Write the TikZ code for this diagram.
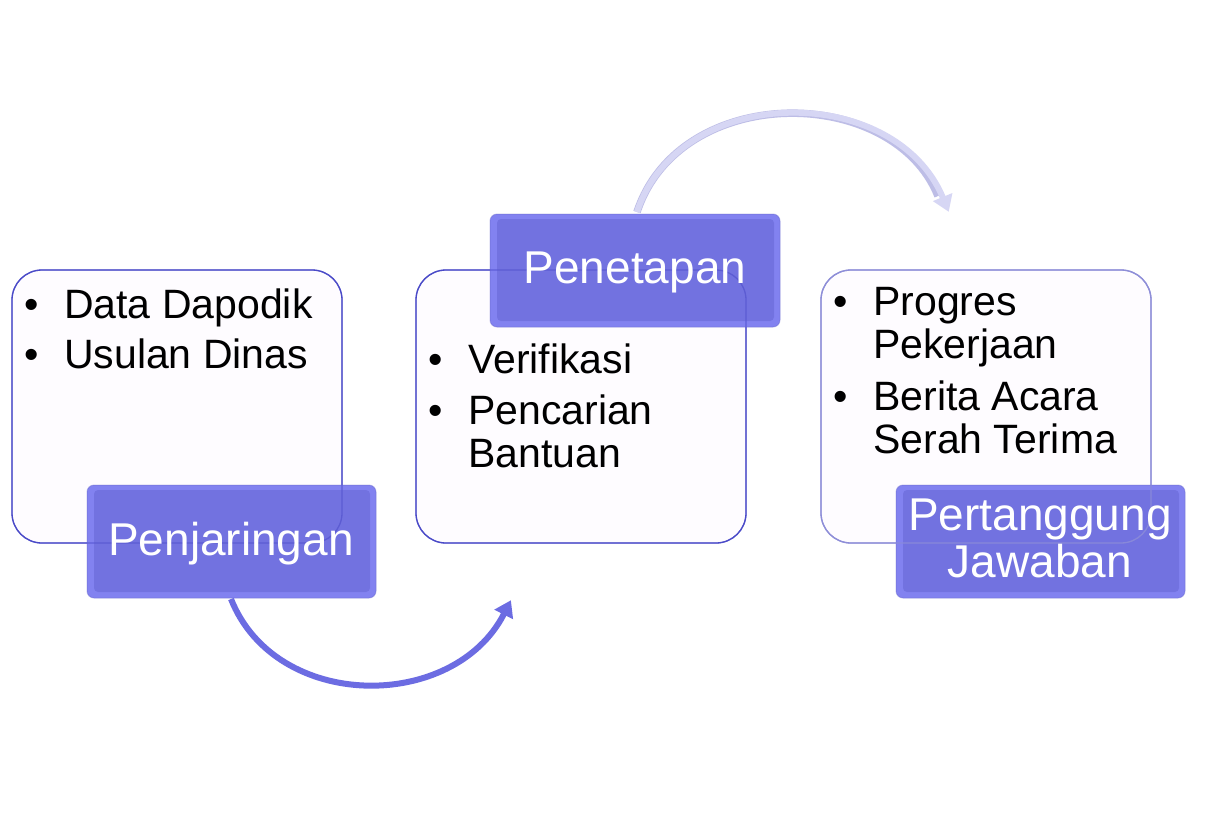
\documentclass[tikz,border=0pt]{standalone}
\usepackage{fontspec}
\setmainfont{Liberation Sans}
\usetikzlibrary{arrows.meta}
\definecolor{boxfill}{HTML}{FEFCFF}
\definecolor{boxline}{HTML}{4A4AC8}
\definecolor{boxlinelight}{HTML}{8E8ED8}
\definecolor{labouter}{HTML}{7C7CF0}
\definecolor{labinner}{HTML}{7272E0}
\definecolor{labdark}{HTML}{6A6ACC}
\definecolor{arrowdark}{HTML}{6C6CE2}
\definecolor{arrowlight}{HTML}{D6D6F4}
\definecolor{arrowlightedge}{HTML}{BDBDE6}
\tikzset{
  textbox/.style={draw=boxline, line width=1.3pt, fill=boxfill, rounded corners=30pt},
  boxghost/.style={draw=boxline, line width=1.3pt, draw opacity=0.55, rounded corners=30pt},
  labelouter/.style={fill=labouter, fill opacity=0.95, draw=labdark, draw opacity=0.4, line width=1pt, rounded corners=7pt},
  labelinner/.style={fill=labinner, fill opacity=0.95, rounded corners=4pt},
  bodytext/.style={anchor=base west, inner sep=0pt, font=\fontsize{41}{43}\selectfont, text=black},
  labeltext/.style={anchor=base, inner sep=0pt, font=\fontsize{46}{48}\selectfont, text=white},
  flowdark/.style={draw=arrowdark, line width=6pt, -{Triangle[length=16pt,width=20pt]}, shorten >=-2pt},
  flowlight/.style={draw=arrowlight, line width=6pt, -{Triangle[length=16pt,width=20pt]}, shorten >=-2pt}
}
\begin{document}
\begin{tikzpicture}[x=1pt,y=-1pt]
\useasboundingbox[fill=white] (0,0) rectangle (1210,812);

% ---- text boxes
\draw[textbox] (12,270) rectangle (342,543);
\draw[textbox] (416,270) rectangle (746,543);
\draw[textbox, draw=boxlinelight] (821,270) rectangle (1151,543);

% ---- labels
\path[labelouter] (87,485) rectangle (376,598);
\path[labelinner] (94,490) rectangle (370,592);
\path[labelouter] (490,214) rectangle (780,327);
\path[labelinner] (497,219) rectangle (774,321);
\path[labelouter] (896,485) rectangle (1185,598);
\path[labelinner] (903,490) rectangle (1179,592);

% ---- box outlines showing through the labels
\draw[boxghost] (12,270) rectangle (342,543);
\draw[boxghost] (416,270) rectangle (746,543);
\draw[boxghost, draw=boxlinelight, draw opacity=0.8] (821,270) rectangle (1151,543);

% ---- box 1 texts
\node[bodytext] (b1a) at (24,318) {•};
\node[bodytext] (t1a) at (64,318) {Data Dapodik};
\node[bodytext] (b1b) at (24,368) {•};
\node[bodytext] (t1b) at (64,368) {Usulan Dinas};

% ---- box 2 texts
\node[bodytext] (b2a) at (428,373) {•};
\node[bodytext] (t2a) at (468,373) {Verifikasi};
\node[bodytext] (b2b) at (428,424) {•};
\node[bodytext] (t2b) at (468,424) {Pencarian};
\node[bodytext] (t2c) at (468,467) {Bantuan};

% ---- box 3 texts
\node[bodytext] (b3a) at (833,315) {•};
\node[bodytext] (t3a) at (873,315) {Progres};
\node[bodytext] (t3b) at (873,358) {Pekerjaan};
\node[bodytext] (b3b) at (833,410) {•};
\node[bodytext] (t3c) at (873,410) {Berita Acara};
\node[bodytext] (t3d) at (873,453) {Serah Terima};

% ---- label texts
\node[labeltext] (l1) at (231,555) {Penjaringan};
\node[labeltext] (l2) at (635,283) {Penetapan};
\node[labeltext] (l3a) at (1040,530) {Pertanggung};
\node[labeltext] (l3b) at (1040,577) {Jawaban};

% ---- connectors
\coordinate (a1s) at (231,599);
\coordinate (a1e) at (510,602);
\coordinate (a2s) at (637,212);
\coordinate (a2e) at (948,210);
\coordinate (a2m) at (938,196);
\draw[flowdark] (a1s) .. controls (276,712) and (454,712) .. (a1e);
\draw[arrowlightedge, line width=7.5pt] (a2s) .. controls (680,82) and (893,84) .. (a2m);
\draw[flowlight] (a2s) .. controls (680,82) and (895,82) .. (a2e);
\end{tikzpicture}
\end{document}
